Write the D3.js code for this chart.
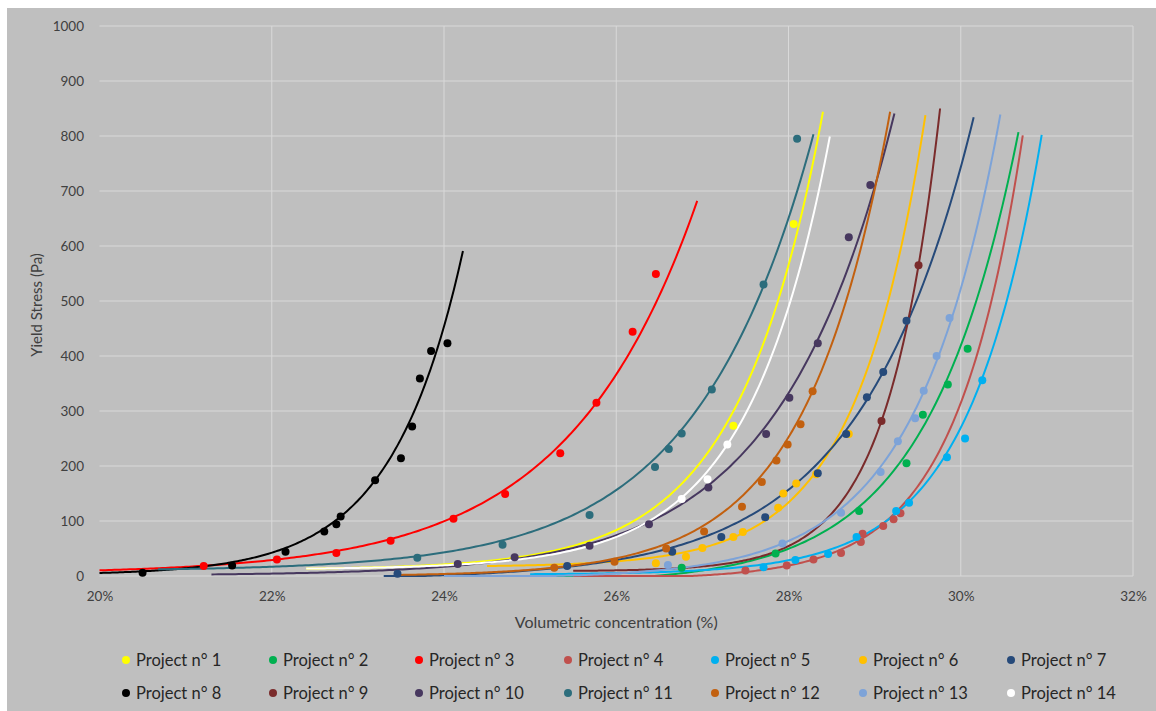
<!DOCTYPE html>
<html>
<head>
<meta charset="utf-8">
<script src="https://cdn.jsdelivr.net/npm/d3@7"></script>
<style>
  html, body { margin: 0; padding: 0; background: #ffffff; }
  svg { display: block; }
  text { font-family: Lato, "Open Sans", sans-serif; }
</style>
</head>
<body>
<svg id="chart" width="1156" height="711"></svg>
<script>
// ---------- data ----------
const projectNames = ["Project n° 1","Project n° 2","Project n° 3","Project n° 4","Project n° 5","Project n° 6","Project n° 7",
                      "Project n° 8","Project n° 9","Project n° 10","Project n° 11","Project n° 12","Project n° 13","Project n° 14"];
const projectColors = ["#FFFF00","#00B050","#FF0000","#C0504D","#00B0F0","#FFC000","#264A7A",
                       "#000000","#7A2B2B","#47385F","#2C6D7C","#C2600F","#7DA3D8","#FFFFFF"];

// measured points: [volumetric concentration %, yield stress Pa]
const project1  = [[27.36,273],[28.06,640]];
const project2  = [[26.76,15],[27.85,41],[28.82,118],[29.37,205],[29.56,293],[29.85,348],[30.08,413]];
const project3  = [[21.21,18],[22.06,30],[22.75,42],[23.38,64],[24.11,104],[24.71,149],[25.35,223],[25.77,315],[26.19,444],[26.46,549]];
const project4  = [[27.50,10],[27.98,19],[28.29,30],[28.61,42],[28.84,62],[28.86,77],[29.10,91],[29.22,103],[29.30,114]];
const project5  = [[27.71,16],[28.08,29],[28.46,40],[28.79,71],[29.25,118],[29.40,133],[29.84,216],[30.05,250],[30.25,356]];
const project6  = [[26.46,23],[26.81,35],[27.00,51],[27.36,71],[27.47,80],[27.88,124],[27.94,150],[28.09,168],[28.32,185],[28.70,258]];
const project7  = [[23.46,4],[25.43,18],[26.65,44],[27.22,71],[27.73,107],[28.34,187],[28.67,258],[28.91,325],[29.10,371],[29.37,464]];
const project8  = [[20.50,6],[21.54,19],[22.16,44],[22.61,81],[22.75,94],[22.80,108],[23.20,174],[23.50,214],[23.63,272],[23.72,359],[23.85,409],[24.04,423]];
const project9  = [[29.08,282],[29.51,565]];
const project10 = [[24.16,22],[24.82,34],[25.69,55],[26.38,94],[27.07,161],[27.74,258],[28.01,324],[28.34,423],[28.70,616],[28.95,711]];
const project11 = [[23.69,33],[24.68,57],[25.69,111],[26.45,198],[26.61,231],[26.76,259],[27.11,339],[27.71,530],[28.10,795]];
const project12 = [[25.28,15],[25.98,26],[26.58,50],[27.02,81],[27.46,126],[27.69,171],[27.86,210],[27.99,239],[28.14,276],[28.28,336]];
const project13 = [[26.60,20],[27.93,59],[28.61,115],[29.07,189],[29.27,245],[29.47,287],[29.57,337],[29.72,400],[29.87,469]];
const project14 = [[26.76,140],[27.06,176],[27.29,239]];

// trend curves (exponential-type), three points read on each curve + start of the curve
const trendStart = [22.4, 24.5, 20.0, 25.5, 25.0, 24.5, 23.3, 20.0, 25.5, 21.3, 20.68, 23.5, 24.0, 22.4];
const trendLow  = [[24.19,23],[27.85,41],[22.06,30],[28.29,30],[28.08,31],[27.00,51],[26.97,68],[21.00,14],[28.02,56],[24.16,19],[23.69,36],[25.39,17],[27.93,59],[25.65,53]];
const trendMid  = [[26.62,147],[30.22,520],[25.77,315],[29.64,196],[29.64,178],[28.32,190],[29.10,371],[23.20,174],[29.08,282],[27.07,165],[26.45,214],[28.28,336],[29.27,245],[27.29,239]];
const trendTop  = [[28.40,844],[30.67,807],[26.94,682],[30.72,801],[30.94,802],[29.59,838],[30.15,834],[24.22,591],[29.76,850],[29.23,841],[28.29,803],[29.18,844],[30.46,839],[28.48,799]];

const xTicks = [20,22,24,26,28,30,32];
const yTicks = [0,100,200,300,400,500,600,700,800,900,1000];

const allProjects = [project1,project2,project3,project4,project5,project6,project7,
                     project8,project9,project10,project11,project12,project13,project14];

// ---------- chart ----------
const W = 1156, H = 711;
const svg = d3.select("#chart");
svg.append("rect").attr("x",0).attr("y",0).attr("width",W).attr("height",H).attr("fill","#ffffff");
svg.append("rect").attr("x",7).attr("y",8).attr("width",W-7).attr("height",H-8).attr("fill","#BFBFBF");

const plot = {left: 99.5, right: 1133, top: 26, bottom: 576};
const x = d3.scaleLinear().domain([20,32]).range([plot.left, plot.right]);
const y = d3.scaleLinear().domain([0,1000]).range([plot.bottom, plot.top]);

// gridlines
svg.append("g").selectAll("line.h").data(yTicks).join("line")
  .attr("x1", plot.left).attr("x2", plot.right)
  .attr("y1", d => y(d)).attr("y2", d => y(d))
  .attr("stroke", "#D9D9D9").attr("stroke-width", 1);
svg.append("g").selectAll("line.v").data(xTicks.filter(d => d > 20)).join("line")
  .attr("x1", d => x(d)).attr("x2", d => x(d))
  .attr("y1", plot.top).attr("y2", plot.bottom)
  .attr("stroke", "#D9D9D9").attr("stroke-width", 1);

// axes
const yAxis = svg.append("g").attr("transform", `translate(${plot.left},0)`)
  .call(d3.axisLeft(y).tickValues(yTicks).tickSize(0).tickPadding(15.5).tickFormat(d3.format("d")));
const xAxis = svg.append("g").attr("transform", `translate(0,${plot.bottom})`)
  .call(d3.axisBottom(x).tickValues(xTicks).tickSize(0).tickPadding(15).tickFormat(d => d + "%"));
[yAxis, xAxis].forEach(a => {
  a.select(".domain").remove();
  a.selectAll("text").attr("font-family", "Lato, sans-serif").attr("font-size", "13.5px").attr("fill", "#404040");
});

// axis titles
svg.append("text").attr("x", (plot.left + plot.right)/2).attr("y", 628)
  .attr("text-anchor","middle").attr("font-size","16px").attr("fill","#404040")
  .text("Volumetric concentration (%)");
svg.append("text").attr("transform", `translate(42,${(plot.top+plot.bottom)/2 + 4}) rotate(-90)`)
  .attr("text-anchor","middle").attr("font-size","15px").attr("fill","#404040")
  .text("Yield Stress (Pa)");

// trend curve solver: y = c + A*exp(b*(x - xt)) through three read points
function fitTrend(lo, mi, to) {
  const ul = lo[0] - to[0], um = mi[0] - to[0];
  const r = (to[1] - mi[1]) / (mi[1] - lo[1]);
  const g = b => (1 - Math.exp(b*um)) / (Math.exp(b*um) - Math.exp(b*ul));
  let a = 1e-4, z = 30;
  if (g(a) >= r) { z = a; }
  for (let i = 0; i < 200 && z > a; i++) {
    const m = (a + z) / 2;
    if (g(m) < r) a = m; else z = m;
  }
  const b = (a + z) / 2;
  const A = (to[1] - mi[1]) / (1 - Math.exp(b*um));
  const c = to[1] - A;
  return xv => Math.max(0, c + A * Math.exp(b * (xv - to[0])));
}

const line = d3.line().x(d => x(d[0])).y(d => y(d[1])).curve(d3.curveLinear);
const gLines = svg.append("g");
projectNames.forEach((name, i) => {
  const f = fitTrend(trendLow[i], trendMid[i], trendTop[i]);
  const x0 = trendStart[i], x1 = trendTop[i][0];
  const samples = d3.range(0, 201).map(k => { const xv = x0 + (x1 - x0) * k / 200; return [xv, f(xv)]; });
  gLines.append("path").datum(samples).attr("d", line)
    .attr("fill","none").attr("stroke", projectColors[i]).attr("stroke-width", 2);
});

const gPts = svg.append("g");
allProjects.forEach((pts, i) => {
  gPts.selectAll(null).data(pts).join("circle")
    .attr("cx", d => x(d[0])).attr("cy", d => y(d[1])).attr("r", 4)
    .attr("fill", projectColors[i]);
});

// legend
const legendX = [126, 273, 419, 568, 715, 863, 1011];
const legendY = [660, 693];
const lg = svg.append("g");
projectNames.forEach((name, i) => {
  const col = i % 7, row = Math.floor(i / 7);
  const gx = legendX[col], gy = legendY[row];
  lg.append("circle").attr("cx", gx).attr("cy", gy).attr("r", 4).attr("fill", projectColors[i]);
  lg.append("text").attr("x", gx + 10).attr("y", gy).attr("dy", "0.35em")
    .attr("font-size", "16.5px").attr("fill", "#262626").text(name);
});
</script>
</body>
</html>
